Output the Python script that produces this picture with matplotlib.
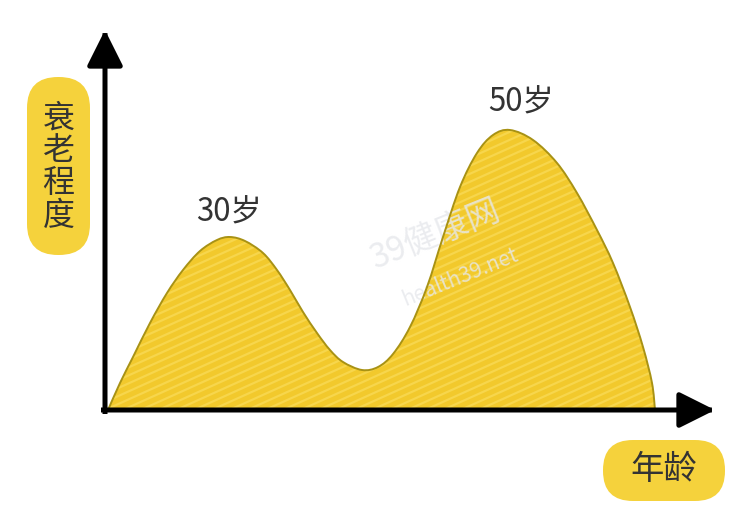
import numpy as np
import matplotlib.pyplot as plt
from matplotlib.path import Path
from matplotlib.patches import PathPatch, FancyBboxPatch

plt.rcParams['font.family'] = ['Noto Sans CJK SC', 'DejaVu Sans']

# 曲线上读取的点（横轴: 年龄方向, 纵轴: 衰老程度, 任意单位）
curve_x = [0.3, 1.5, 2.8, 4.5, 6.2, 7.8, 9.5, 11.2, 12.5, 14.0, 15.8, 17.2,
           18.5, 19.8, 21.2, 22.5, 23.8, 25.7, 27.3, 28.8, 30.5, 32.2,
           33.8, 35.5, 37.2, 38.8, 40.5, 42.8, 45.2, 47.2, 49.2, 50.8, 52.5,
           53.8, 54.7, 55.0]
curve_y = [0.0, 2.7, 5.3, 8.7, 11.7, 14.0, 15.9, 17.0, 17.3, 16.9, 15.7, 14.0,
           12.0, 9.8, 7.7, 6.0, 4.8, 4.0, 4.3, 5.6, 8.3, 12.3,
           17.3, 22.3, 25.7, 27.5, 28.0, 27.0, 24.7, 21.7, 18.0, 14.7, 10.3,
           6.3, 2.7, 0.0]

# 峰值标注
peak_labels = ['30岁', '50岁']
label_x = [12.4, 41.6]
label_y = [18.2, 29.2]

y_label = '衰老程度'
x_label = '年龄'

fill_color = '#F2C92C'
stripe_color = '#F7D64C'
edge_color = '#A89214'
pill_color = '#F5D23C'
text_color = '#333333'


def smooth_path(xs, ys):
    # Catmull-Rom -> 贝塞尔, 用于画平滑曲线
    pts = np.column_stack([xs, ys])
    verts = [pts[0]]
    codes = [Path.MOVETO]
    n = len(pts)
    for i in range(n - 1):
        p0 = pts[max(i - 1, 0)]
        p1 = pts[i]
        p2 = pts[i + 1]
        p3 = pts[min(i + 2, n - 1)]
        c1 = p1 + (p2 - p0) / 6
        c2 = p2 - (p3 - p1) / 6
        verts += [c1, c2, p2]
        codes += [Path.CURVE4] * 3
    return verts, codes


fig = plt.figure(figsize=(7.5, 5.17), dpi=100)

# 背景坐标系（像素单位）用于放置标签框
bg = fig.add_axes([0, 0, 1, 1])
bg.set_xlim(0, 750)
bg.set_ylim(517, 0)
bg.axis('off')

ax = fig.add_axes([105 / 750, (517 - 410) / 517, 610 / 750, 380 / 517])
ax.set_xlim(0, 61)
ax.set_ylim(0, 38)
ax.axis('off')

verts, codes = smooth_path(curve_x, curve_y)
fill_verts = verts + [(curve_x[0], 0), (curve_x[0], 0)]
fill_codes = codes + [Path.LINETO, Path.CLOSEPOLY]
area = PathPatch(Path(fill_verts, fill_codes), facecolor=fill_color,
                 edgecolor='none', zorder=1)
ax.add_patch(area)

# 斜条纹
xx = np.array([-5, 65])
for c in np.arange(-40, 40, 0.8):
    ln, = ax.plot(xx, 0.45 * xx + c, color=stripe_color, lw=1.6, zorder=2)
    ln.set_clip_path(area)

ax.add_patch(PathPatch(Path(verts, codes), facecolor='none',
                       edgecolor=edge_color, lw=1.4, zorder=3))

# 水印
ax.text(33, 17.5, '39健康网', fontsize=24, color='#E6E8EC', rotation=22,
        ha='center', va='center', zorder=2.5, alpha=0.8)
ax.text(35.5, 13.3, 'health39.net', fontsize=15, color='#E6E8EC', rotation=22,
        ha='center', va='center', zorder=2.5, alpha=0.8)

# 坐标轴和箭头
arrow = dict(arrowstyle='-|>,head_length=1.1,head_width=0.55', lw=3.6,
             color='black', mutation_scale=20, shrinkA=0, shrinkB=0,
             capstyle='projecting')
ax.annotate('', xy=(61, 0), xytext=(-0.15, 0), arrowprops=arrow,
            annotation_clip=False, zorder=5)
ax.annotate('', xy=(0, 38), xytext=(0, -0.15), arrowprops=arrow,
            annotation_clip=False, zorder=5)

for lab, px, py in zip(peak_labels, label_x, label_y):
    ax.text(px, py, lab, fontsize=22.5, color=text_color, fontweight='medium',
            ha='center', va='bottom', zorder=6)

# 标签框
bg.add_patch(FancyBboxPatch((27, 77), 63, 178,
                            boxstyle='round,pad=0,rounding_size=31',
                            facecolor=pill_color, edgecolor='none'))
bg.text(58.5, 167, '\n'.join(y_label), fontsize=23, color=text_color,
        fontweight='medium', ha='center', va='center', linespacing=1.02)

bg.add_patch(FancyBboxPatch((603, 440), 122, 61,
                            boxstyle='round,pad=0,rounding_size=30',
                            facecolor=pill_color, edgecolor='none'))
bg.text(664, 470, x_label, fontsize=24, color=text_color,
        fontweight='medium', ha='center', va='center')

fig.savefig('out.png', dpi=100)
